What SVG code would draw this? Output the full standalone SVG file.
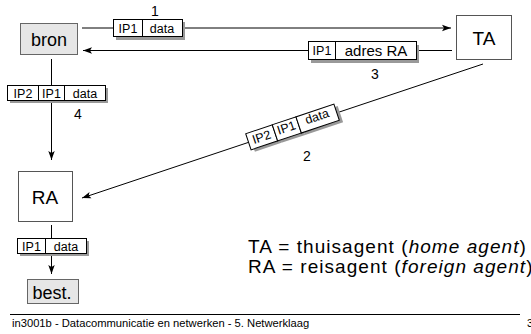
<svg xmlns="http://www.w3.org/2000/svg" width="531" height="334" viewBox="0 0 531 334">
<defs>
<marker id="ah" markerUnits="userSpaceOnUse" markerWidth="10" markerHeight="8" refX="9" refY="4" orient="auto">
<path d="M0,0.8 L9,4 L0,7.2 L2,4 z" fill="#000"/>
</marker>
</defs>
<style>
text{font-family:"Liberation Sans",Arial,sans-serif;fill:#000}
.node{fill:#fff;stroke:#555;stroke-width:1}
.grey{fill:#e6e6e6;stroke:#666;stroke-width:1}
.cell{fill:#fff;stroke:#000;stroke-width:1}
.sh{fill:#999}
.conn{stroke:#000;stroke-width:1;fill:none}
.lbl{font-size:18px;text-anchor:middle}
.big{font-size:19px;text-anchor:middle}
.pk{font-size:12.5px;text-anchor:middle}
.pkl{font-size:15px;text-anchor:middle}
.num{font-size:14px;text-anchor:middle}
.leg{font-size:19px;letter-spacing:1.05px}
.foot{font-size:11.2px}
</style>
<rect width="531" height="334" fill="#fff"/>
<g id="connectors">
<line class="conn" x1="82" y1="28" x2="451" y2="28" marker-end="url(#ah)"/>
<line class="conn" x1="452" y1="50.5" x2="83" y2="50.5" marker-end="url(#ah)" stroke="#333"/>
<line class="conn" x1="483" y1="64" x2="82" y2="198" marker-end="url(#ah)"/>
<line class="conn" x1="51.5" y1="59" x2="51.5" y2="160" marker-end="url(#ah)"/>
<line class="conn" x1="51.5" y1="225" x2="51.5" y2="274" marker-end="url(#ah)"/>
</g>
<g id="bron">
<rect class="grey" x="20.5" y="23.5" width="57" height="31"/>
<text class="lbl" x="49" y="46">bron</text>
</g>
<g id="TA">
<rect class="node" x="456.5" y="15.5" width="55" height="44"/>
<text class="big" x="484" y="45">TA</text>
</g>
<g id="RA">
<rect class="node" x="18.5" y="171.5" width="54" height="50"/>
<text class="big" x="45" y="204">RA</text>
</g>
<g id="best">
<rect class="grey" x="27.5" y="279.5" width="51" height="24"/>
<text class="lbl" x="52" y="299">best.</text>
</g>
<g id="packet1">
<rect class="sh" x="116" y="22" width="29" height="18"/>
<rect class="sh" x="145" y="22" width="40" height="18"/>
<rect class="cell" x="113.5" y="19.5" width="29" height="17"/>
<rect class="cell" x="142.5" y="19.5" width="40" height="17"/>
<text class="pk" x="128" y="33">IP1</text>
<text class="pk" x="162" y="33">data</text>
<text class="num" x="155" y="16">1</text>
</g>
<g id="packet3">
<rect class="sh" x="311" y="45" width="28" height="18"/>
<rect class="sh" x="338" y="45" width="81" height="18"/>
<rect class="cell" x="308.5" y="41.5" width="27" height="18"/>
<rect class="cell" x="335.5" y="41.5" width="81" height="18"/>
<text class="pk" x="322" y="55">IP1</text>
<text class="pkl" x="376" y="56">adres RA</text>
<text class="num" x="375" y="79">3</text>
</g>
<g id="packet2">
<g transform="translate(292.5,127) rotate(-18.5)">
<rect class="sh" x="-43.5" y="-5.5" width="28" height="17"/>
<rect class="sh" x="-15.5" y="-5.5" width="25" height="17"/>
<rect class="sh" x="9.5" y="-5.5" width="40" height="17"/>
<rect class="cell" x="-46.5" y="-8.5" width="28" height="17"/>
<rect class="cell" x="-18.5" y="-8.5" width="25" height="17"/>
<rect class="cell" x="6.5" y="-8.5" width="40" height="17"/>
<text class="pk" x="-32.5" y="4">IP2</text>
<text class="pk" x="-6" y="3">IP1</text>
<text class="pk" x="26.5" y="2">data</text>
</g>
<text class="num" x="307" y="161">2</text>
</g>
<g id="packet4">
<rect class="sh" x="10" y="88" width="31" height="15"/>
<rect class="sh" x="41" y="88" width="26" height="15"/>
<rect class="sh" x="67" y="88" width="41" height="15"/>
<rect class="cell" x="7.5" y="85.5" width="31" height="15"/>
<rect class="cell" x="38.5" y="85.5" width="26" height="15"/>
<rect class="cell" x="64.5" y="85.5" width="41" height="15"/>
<text class="pk" x="23" y="98">IP2</text>
<text class="pk" x="51.5" y="98">IP1</text>
<text class="pk" x="85" y="98">data</text>
<text class="num" x="78" y="119">4</text>
</g>
<g id="packet5">
<rect class="sh" x="20" y="241" width="28" height="15"/>
<rect class="sh" x="48" y="241" width="41" height="15"/>
<rect class="cell" x="17.5" y="238.5" width="28" height="15"/>
<rect class="cell" x="45.5" y="238.5" width="41" height="15"/>
<text class="pk" x="31.5" y="251">IP1</text>
<text class="pk" x="66" y="251">data</text>
</g>
<g id="legend">
<text class="leg" x="248" y="253">TA = thuisagent (<tspan font-style="italic">home agent</tspan>)</text>
<text class="leg" x="248" y="273">RA = reisagent (<tspan font-style="italic">foreign agent</tspan>)</text>
</g>
<g id="footer">
<line x1="10" y1="314.5" x2="520" y2="314.5" stroke="#000" stroke-width="1"/>
<text class="foot" x="12" y="327">in3001b - Datacommunicatie en netwerken - 5. Netwerklaag</text>
<text class="foot" x="527" y="327">3</text>
</g>
</svg>
